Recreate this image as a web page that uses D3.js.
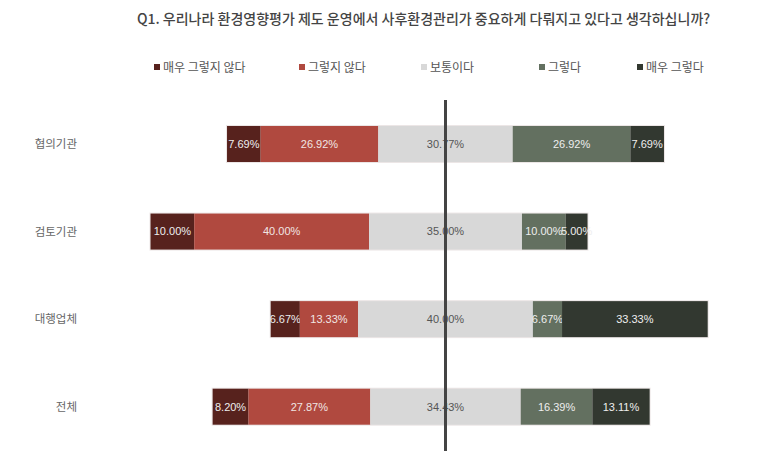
<!DOCTYPE html>
<html><head><meta charset="utf-8">
<script src="https://cdn.jsdelivr.net/npm/d3@7"></script>
<style>
html,body{margin:0;padding:0;background:#fff;}
svg{display:block;}
text{font-family:"Noto Sans CJK KR","Noto Sans",sans-serif;}
.num{font-family:"Liberation Sans",Arial,sans-serif;}
</style></head>
<body>
<script>
const title = "Q1. 우리나라 환경영향평가 제도 운영에서 사후환경관리가 중요하게 다뤄지고 있다고 생각하십니까?";
const categories = ["협의기관", "검토기관", "대행업체", "전체"];
const seriesNames = ["매우 그렇지 않다", "그렇지 않다", "보통이다", "그렇다", "매우 그렇다"];
const stronglyDisagree = [7.69, 10.00, 6.67, 8.20];
const disagree = [26.92, 40.00, 13.33, 27.87];
const neutral = [30.77, 35.00, 40.00, 34.43];
const agree = [26.92, 10.00, 6.67, 16.39];
const stronglyAgree = [7.69, 5.00, 33.33, 13.11];
const colors = ["#57221d", "#b0493f", "#d8d8d8", "#637060", "#323830"];
const labelColors = ["#eeeeee", "#f0e6e4", "#555555", "#eeeeee", "#eeeeee"];

const W = 764, H = 451;
const svg = d3.select("body").append("svg").attr("width", W).attr("height", H);

const series = [stronglyDisagree, disagree, neutral, agree, stronglyAgree];

// Diverging scale: 0 = centre of the neutral segment
const x = d3.scaleLinear().domain([-50, 50]).range([445.5 - 218.5, 445.5 + 218.5]);
const y = d3.scalePoint().domain(categories).range([144, 406.7]);
const barH = 36;

// Title
svg.append("text").attr("x", 137).attr("y", 24)
  .attr("font-size", 14).attr("font-weight", 500).attr("fill", "#444").text(title);

// Legend
const legendX = [154, 299, 421, 539, 637];
const lg = svg.append("g");
seriesNames.forEach((name, i) => {
  lg.append("rect").attr("x", legendX[i]).attr("y", 64).attr("width", 6).attr("height", 6).attr("fill", colors[i]);
  lg.append("text").attr("x", legendX[i] + 9).attr("y", 71.5).attr("font-size", 12).attr("fill", "#555").text(name);
});

// Category labels
svg.append("g").selectAll("text").data(categories).join("text")
  .attr("x", 77).attr("y", d => y(d)).attr("dy", "0.35em")
  .attr("text-anchor", "end").attr("font-size", 11.5).attr("fill", "#666").text(d => d);

// Bars
categories.forEach((cat, ci) => {
  const vals = series.map(s => s[ci]);
  let start = -(vals[0] + vals[1] + vals[2] / 2);
  const total = d3.sum(vals);
  const g = svg.append("g");
  // faint outline
  g.append("rect").attr("x", x(start) - 1).attr("y", y(cat) - barH / 2 - 1)
    .attr("width", x(start + total) - x(start) + 2).attr("height", barH + 2)
    .attr("fill", "#ece6e6");
  vals.forEach((v, i) => {
    const x0 = x(start), x1 = x(start + v);
    g.append("rect").attr("x", x0).attr("y", y(cat) - barH / 2)
      .attr("width", x1 - x0).attr("height", barH).attr("fill", colors[i]);
    g.append("text").attr("class", "num").attr("x", (x0 + x1) / 2).attr("y", y(cat))
      .attr("dy", "0.35em").attr("text-anchor", "middle").attr("font-size", 11)
      .attr("fill", labelColors[i]).text(v.toFixed(2) + "%");
    start += v;
  });
});

// Centre line
svg.append("line").attr("x1", x(0)).attr("x2", x(0)).attr("y1", 100).attr("y2", H)
  .attr("stroke", "#444").attr("stroke-width", 3);
</script>
</body></html>
